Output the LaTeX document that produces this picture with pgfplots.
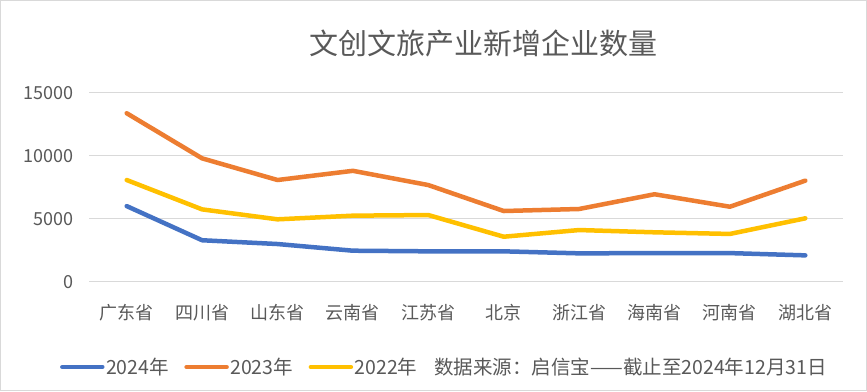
\documentclass[border=0pt]{standalone}
\usepackage{pgfplots}
\pgfplotsset{compat=1.18}
\usepackage{fontspec}
\setmainfont{Noto Sans CJK SC}
\definecolor{c24}{HTML}{4472C4}
\definecolor{c23}{HTML}{ED7D31}
\definecolor{c22}{HTML}{FFC000}
\definecolor{txt}{HTML}{595959}
\definecolor{grd}{HTML}{D9D9D9}
\begin{document}
\begin{tikzpicture}[x=1pt,y=1pt]
\useasboundingbox (0,0) rectangle (867,391);
\fill[white] (0,0) rectangle (867,391);
\draw[grd,line width=1pt] (0.5,0.5) rectangle (866.5,390.5);
\node[txt,font=\fontsize{29}{32}\selectfont] at (483,348) {文创文旅产业新增企业数量};
\begin{axis}[
  at={(89pt,109.3pt)}, anchor=south west,
  scale only axis, width=754pt, height=189pt,
  xmin=-0.5, xmax=9.5, ymin=0, ymax=15000,
  axis line style={draw=none},
  ymajorgrids, grid style={grd,line width=1.2pt},
  ytick={0,5000,10000,15000},
  xtick={0,...,9},
  xticklabels={广东省,四川省,山东省,云南省,江苏省,北京,浙江省,海南省,河南省,湖北省},
  /pgf/number format/assume math mode=true,
  scaled y ticks=false,
  yticklabel={\pgfmathprintnumber[fixed,1000 sep={}]{\tick}},
  tick label style={txt,font=\fontsize{18}{20}\selectfont},
  xticklabel style={anchor=north,yshift=-19pt},
  yticklabel style={anchor=east,xshift=-12pt},
  major tick length=0pt,
  legend columns=-1,
  legend style={at={(0.471,-0.451)},anchor=center,draw=none,fill=none,
    font=\fontsize{19.5}{22}\selectfont, text=txt,
    nodes={inner sep=1.5pt},
    /tikz/every even column/.append style={column sep=14pt}},
  legend image code/.code={\draw[#1,line width=4.5pt,line cap=round] (0pt,0pt) -- (40pt,0pt);},
  every axis plot/.append style={line width=4.5pt,line cap=round,line join=round,mark=none},
]
\addplot[c24] coordinates {(0,6000)(1,3290)(2,2990)(3,2460)(4,2410)(5,2410)(6,2250)(7,2270)(8,2270)(9,2090)};
\addplot[c23] coordinates {(0,13370)(1,9790)(2,8070)(3,8800)(4,7670)(5,5610)(6,5770)(7,6940)(8,5950)(9,8020)};
\addplot[c22] coordinates {(0,8070)(1,5740)(2,4950)(3,5240)(4,5290)(5,3570)(6,4100)(7,3920)(8,3790)(9,5030)};
\addlegendentry{2024年}
\addlegendentry{2023年}
\addlegendentry{2022年}
\addlegendimage{empty legend}
\addlegendentry{数据来源：启信宝——截止至2024年12月31日}
\end{axis}
\end{tikzpicture}
\end{document}
